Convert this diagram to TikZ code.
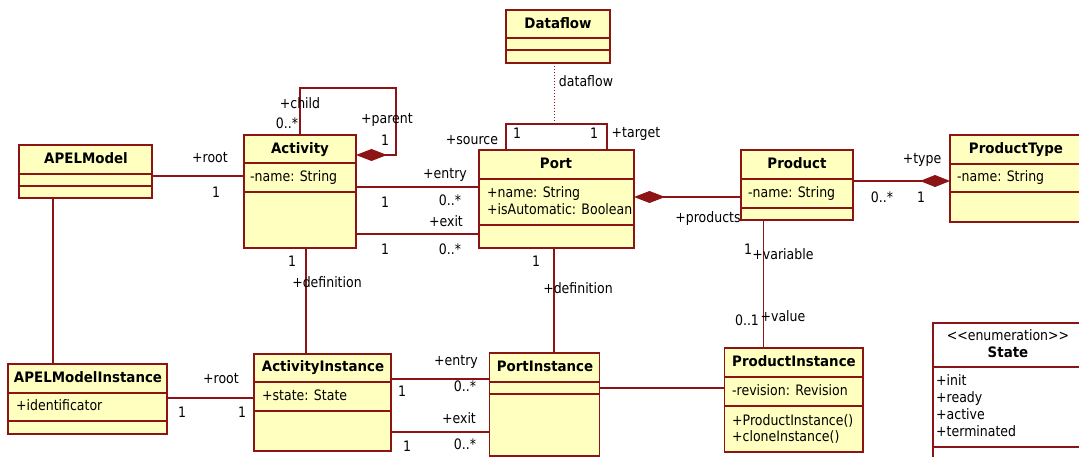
\documentclass[tikz,border=0pt]{standalone}
\usepackage{fontspec}
\setmainfont{DejaVu Sans}[FakeStretch=0.87,BoldFeatures={FakeStretch=0.93}]
\usetikzlibrary{arrows.meta}
\definecolor{umlred}{RGB}{140,20,20}
\definecolor{umlfill}{RGB}{255,255,192}
\begin{document}
\begin{tikzpicture}[x=1pt,y=-1pt,
  font=\fontsize{14.4}{17}\selectfont,
  box/.style={draw=umlred,line width=1.2pt,fill=umlfill,inner sep=0pt,outer sep=0pt,anchor=north west},
  wbox/.style={box,fill=white},
  sepline/.style={draw=umlred,line width=1.2pt},
  conn/.style={draw=umlred,line width=1.2pt},
  comp/.style={conn,{Diamond[length=31pt,width=12pt,fill=umlred]}-},
  compend/.style={conn,-{Diamond[length=30pt,width=12pt,fill=umlred]}},
  dotconn/.style={draw=umlred,line width=1pt,dotted},
  lbl/.style={inner sep=0pt,text height=1.33ex,text depth=0pt},
  title/.style={lbl,font=\fontsize{14.4}{17}\selectfont\bfseries},
  attr/.style={lbl,anchor=west}]
\useasboundingbox (0,0) rectangle (1079,457);
\clip (0,0) rectangle (1079,457);

% ---------- classes ----------
% APELModel
\node[box,minimum width=133pt,minimum height=53pt] (apel) at (19,145) {};
\draw[sepline] (apel.west |- 0,174) -- (apel.east |- 0,174);
\draw[sepline] (apel.west |- 0,186) -- (apel.east |- 0,186);
\node[title] (apelT) at (86,160) {APELModel};

% Activity
\node[box,minimum width=112pt,minimum height=113pt] (act) at (244,135) {};
\draw[sepline] (act.west |- 0,163) -- (act.east |- 0,163);
\draw[sepline] (act.west |- 0,192) -- (act.east |- 0,192);
\node[title] (actT) at (300,150) {Activity};
\node[attr] (actA) at (250,178) {-name: String};

% Dataflow
\node[box,minimum width=104pt,minimum height=53pt] (df) at (506,10) {};
\draw[sepline] (df.west |- 0,38) -- (df.east |- 0,38);
\draw[sepline] (df.west |- 0,50) -- (df.east |- 0,50);
\node[title] (dfT) at (558,25) {Dataflow};

% Port
\node[box,minimum width=155pt,minimum height=98pt] (port) at (479,150) {};
\draw[sepline] (port.west |- 0,179) -- (port.east |- 0,179);
\draw[sepline] (port.west |- 0,225) -- (port.east |- 0,225);
\node[title] (portT) at (556,165) {Port};
\node[attr] (portA1) at (487,194) {+name: String};
\node[attr] (portA2) at (487,211) {+isAutomatic: Boolean};

% Product
\node[box,minimum width=112pt,minimum height=70pt] (prod) at (741,150) {};
\draw[sepline] (prod.west |- 0,179) -- (prod.east |- 0,179);
\draw[sepline] (prod.west |- 0,208) -- (prod.east |- 0,208);
\node[title] (prodT) at (797,165) {Product};
\node[attr] (prodA) at (748,194) {-name: String};

% ProductType
\node[box,minimum width=132pt,minimum height=87pt] (ptype) at (950,135) {};
\draw[sepline] (ptype.west |- 0,164) -- (ptype.east |- 0,164);
\draw[sepline] (ptype.west |- 0,192) -- (ptype.east |- 0,192);
\node[title] (ptypeT) at (1016,150) {ProductType};
\node[attr] (ptypeA) at (957,178) {-name: String};

% APELModelInstance
\node[box,minimum width=159pt,minimum height=70pt] (apeli) at (8,364) {};
\draw[sepline] (apeli.west |- 0,393) -- (apeli.east |- 0,393);
\draw[sepline] (apeli.west |- 0,421) -- (apeli.east |- 0,421);
\node[title] (apeliT) at (88,379) {APELModelInstance};
\node[attr] (apeliA) at (16,407) {+identificator};

% ActivityInstance
\node[box,minimum width=137pt,minimum height=97pt] (acti) at (254,354) {};
\draw[sepline] (acti.west |- 0,382) -- (acti.east |- 0,382);
\draw[sepline] (acti.west |- 0,411) -- (acti.east |- 0,411);
\node[title] (actiT) at (323,368) {ActivityInstance};
\node[attr] (actiA) at (262,397) {+state: State};

% PortInstance
\node[box,minimum width=110pt,minimum height=103pt] (porti) at (489.5,353) {};
\draw[sepline] (porti.west |- 0,382) -- (porti.east |- 0,382);
\draw[sepline] (porti.west |- 0,394) -- (porti.east |- 0,394);
\node[title] (portiT) at (545,368) {PortInstance};

% ProductInstance
\node[box,minimum width=138.5pt,minimum height=104pt] (prodi) at (724.5,348) {};
\draw[sepline] (prodi.west |- 0,377) -- (prodi.east |- 0,377);
\draw[sepline] (prodi.west |- 0,406) -- (prodi.east |- 0,406);
\node[title] (prodiT) at (794,363) {ProductInstance};
\node[attr] (prodiA) at (732,392) {-revision: Revision};
\node[attr] (prodiO1) at (732,422) {+ProductInstance()};
\node[attr] (prodiO2) at (732,438) {+cloneInstance()};

% State enumeration
\node[wbox,minimum width=150pt,minimum height=150pt] (state) at (933,323) {};
\draw[sepline] (state.west |- 0,367) -- (state.east |- 0,367);
\draw[sepline] (state.west |- 0,447) -- (state.east |- 0,447);
\node[lbl] (stateS) at (1008,337) {<{}<enumeration>{}>};
\node[title] (stateT) at (1008,354) {State};
\node[attr] (stateA1) at (936,382) {+init};
\node[attr] (stateA2) at (936,399) {+ready};
\node[attr] (stateA3) at (936,416) {+active};
\node[attr] (stateA4) at (936,433) {+terminated};

% ---------- connectors ----------
% APELModel -- Activity (root)
\draw[conn] (apel.east |- 0,176) -- (act.west |- 0,176);
\node[lbl] (l1) at (210,159) {+root};
\node[lbl] (l2) at (216,194) {1};

% APELModel -- APELModelInstance
\draw[conn] (apel.south -| 53,0) -- (apeli.north -| 53,0);

% Activity self composition
\coordinate (loopA) at (396,155);
\coordinate (loopB) at (396,88);
\coordinate (loopC) at (300,88);
\draw[comp] (act.east |- loopA) -- (loopA) -- (loopB) -- (loopC) -- (act.north -| loopC);
\node[lbl] (l3) at (300,105) {+child};
\node[lbl] (l4) at (287,125) {0..*};
\node[lbl] (l5) at (387,120) {+parent};
\node[lbl] (l6) at (385,142) {1};

% Activity -- Port entry / exit
\draw[conn] (act.east |- 0,187) -- (port.west |- 0,187);
\node[lbl] (l7) at (445,175) {+entry};
\node[lbl] (l8) at (385,204) {1};
\node[lbl] (l9) at (450,202) {0..*};
\draw[conn] (act.east |- 0,234) -- (port.west |- 0,234);
\node[lbl] (l10) at (446,223) {+exit};
\node[lbl] (l11) at (385,251) {1};
\node[lbl] (l12) at (450,251) {0..*};

% Activity -- ActivityInstance
\draw[conn] (act.south -| 306,0) -- (acti.north -| 306,0);
\node[lbl] (l13) at (292,263) {1};
\node[lbl] (l14) at (327,284) {+definition};

% Port self association (source/target) with Dataflow association class
\coordinate (pl1) at (506,124);
\coordinate (pl2) at (607,124);
\coordinate (dfj) at (554,124);
\draw[conn] (port.north -| pl1) -- (pl1) -- (pl2) -- (port.north -| pl2);
\draw[dotconn] (df.south -| dfj) -- (dfj);
\node[lbl] (l15) at (586,83) {dataflow};
\node[lbl] (l16) at (517,135) {1};
\node[lbl] (l17) at (594,135) {1};
\node[lbl] (l18) at (472,141) {+source};
\node[lbl] (l19) at (636,134) {+target};

% Port -- Product composition
\draw[comp] (port.east |- 0,197) -- (prod.west |- 0,197);
\node[lbl] (l20) at (708,219) {+products};

% Port -- PortInstance
\draw[conn] (port.south -| 554,0) -- (porti.north -| 554,0);
\node[lbl] (l21) at (536,263) {1};
\node[lbl] (l22) at (578,290) {+definition};

% Product -- ProductType composition
\draw[compend] (prod.east |- 0,181) -- (ptype.west |- 0,181);
\node[lbl] (l23) at (922,160) {+type};
\node[lbl] (l24) at (882,199) {0..*};
\node[lbl] (l25) at (921,199) {1};

% Product -- ProductInstance
\draw[conn] (prod.south -| 763.5,0) -- (prodi.north -| 763.5,0);
\node[lbl] (l26) at (748,251) {1};
\node[lbl] (l27) at (783,256) {+variable};
\node[lbl] (l28) at (747,322) {0..1};
\node[lbl] (l29) at (783,318) {+value};

% APELModelInstance -- ActivityInstance
\draw[conn] (apeli.east |- 0,398) -- (acti.west |- 0,398);
\node[lbl] (l30) at (221,380) {+root};
\node[lbl] (l31) at (182,414) {1};
\node[lbl] (l32) at (242,414) {1};

% ActivityInstance -- PortInstance entry / exit
\draw[conn] (acti.east |- 0,379) -- (porti.west |- 0,379);
\node[lbl] (l33) at (456,362) {+entry};
\node[lbl] (l34) at (402,393) {1};
\node[lbl] (l35) at (465,388) {0..*};
\draw[conn] (acti.east |- 0,432) -- (porti.west |- 0,432);
\node[lbl] (l36) at (459,420) {+exit};
\node[lbl] (l37) at (407,448) {1};
\node[lbl] (l38) at (465,446) {0..*};

% PortInstance -- ProductInstance
\draw[conn] (porti.east |- 0,388) -- (prodi.west |- 0,388);
\end{tikzpicture}
\end{document}
